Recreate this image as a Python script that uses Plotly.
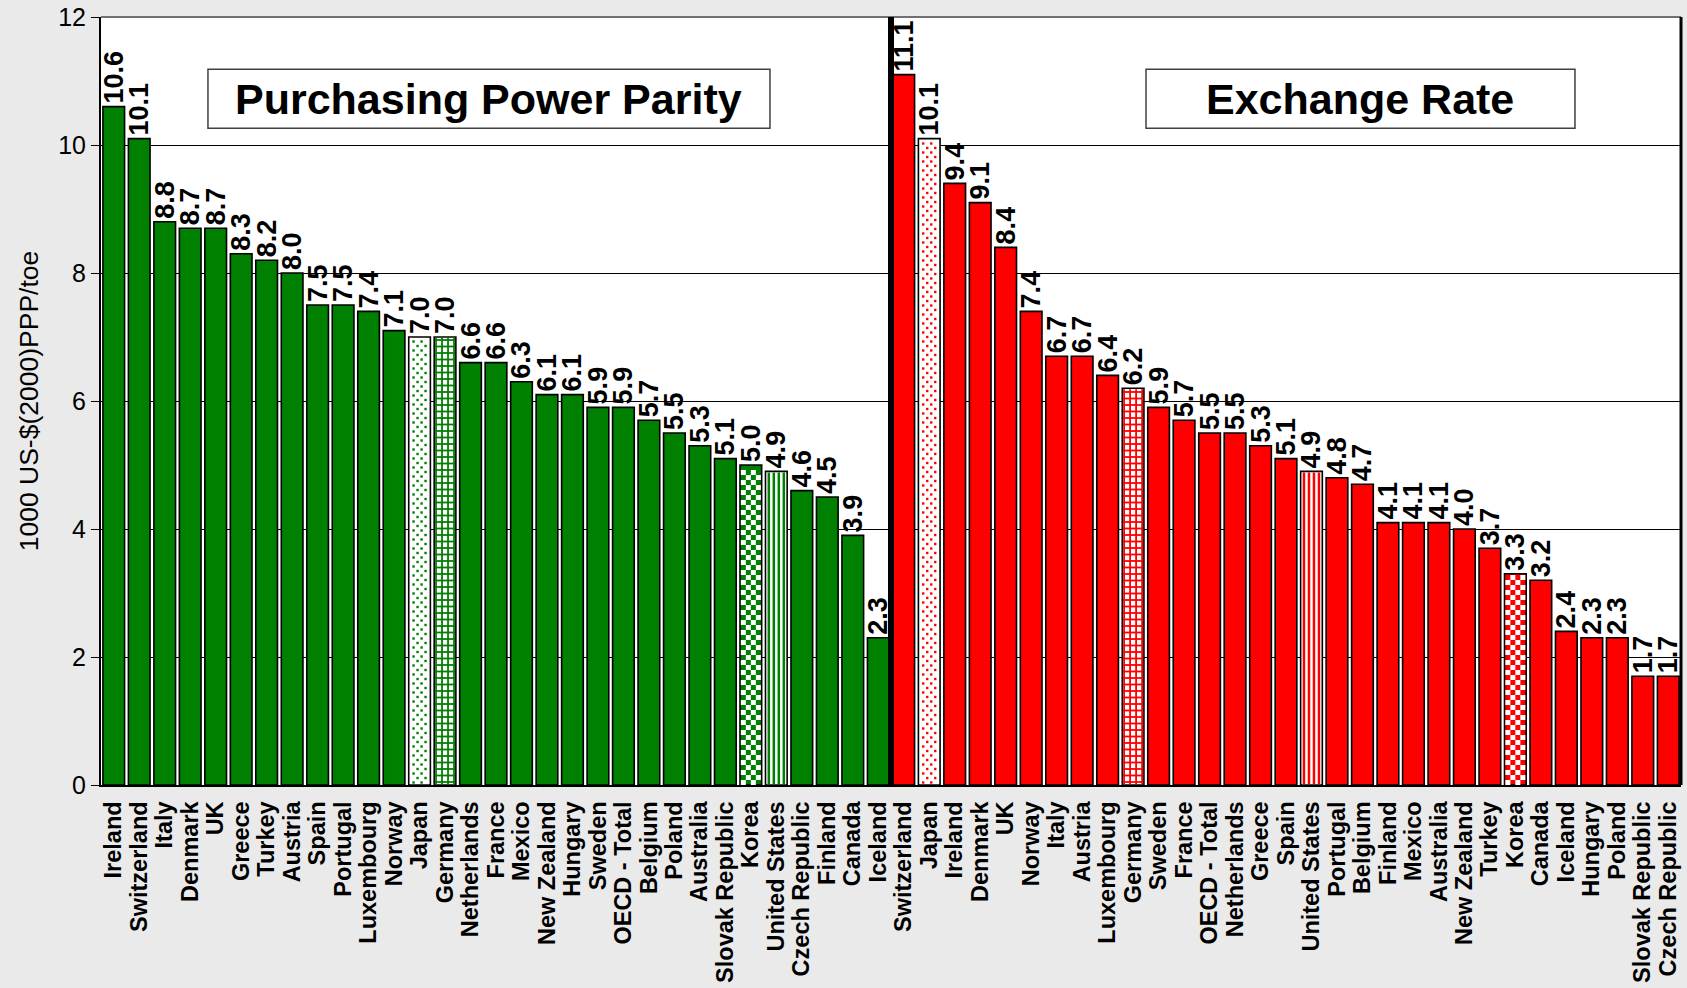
import plotly.graph_objects as go

# Energy productivity by country, 1000 US-$(2000) per toe
ppp_countries = [
    "Ireland", "Switzerland", "Italy", "Denmark", "UK", "Greece", "Turkey",
    "Austria", "Spain", "Portugal", "Luxembourg", "Norway", "Japan", "Germany",
    "Netherlands", "France", "Mexico", "New Zealand", "Hungary", "Sweden",
    "OECD - Total", "Belgium", "Poland", "Australia", "Slovak Republic",
    "Korea", "United States", "Czech Republic", "Finland", "Canada", "Iceland",
]
ppp_values = [
    10.6, 10.1, 8.8, 8.7, 8.7, 8.3, 8.2, 8.0, 7.5, 7.5, 7.4, 7.1, 7.0, 7.0,
    6.6, 6.6, 6.3, 6.1, 6.1, 5.9, 5.9, 5.7, 5.5, 5.3, 5.1, 5.0, 4.9, 4.6,
    4.5, 3.9, 2.3,
]

xr_countries = [
    "Switzerland", "Japan", "Ireland", "Denmark", "UK", "Norway", "Italy",
    "Austria", "Luxembourg", "Germany", "Sweden", "France", "OECD - Total",
    "Netherlands", "Greece", "Spain", "United States", "Portugal", "Belgium",
    "Finland", "Mexico", "Australia", "New Zealand", "Turkey", "Korea",
    "Canada", "Iceland", "Hungary", "Poland", "Slovak Republic",
    "Czech Republic",
]
xr_values = [
    11.1, 10.1, 9.4, 9.1, 8.4, 7.4, 6.7, 6.7, 6.4, 6.2, 5.9, 5.7, 5.5, 5.5,
    5.3, 5.1, 4.9, 4.8, 4.7, 4.1, 4.1, 4.1, 4.0, 3.7, 3.3, 3.2, 2.4, 2.3,
    2.3, 1.7, 1.7,
]

panel_titles = ["Purchasing Power Parity", "Exchange Rate"]
y_title = "1000 US-$(2000)PPP/toe"
y_ticks = [0, 2, 4, 6, 8, 10, 12]

FONT = "Liberation Sans, Arial, sans-serif"
GREEN = "#008000"
RED = "#FF0000"

# figure geometry (pixels) used to size the hatching inside the bars
W, H = 1687, 988
ML, MR, MT, MB = 101, 6, 17, 203
Y_MAX = 12
BAR_W = 0.85

# hatch style per highlighted country
hatch_kind = {"Japan": "dots", "Germany": "grid", "Korea": "checker",
              "United States": "stripes"}


def hatch_traces(countries, values, color, xaxis):
    """Hatch marks drawn inside the highlighted bars, in data units."""
    n = len(countries)
    px_x = (W - ML - MR) / 2 / n          # pixels per category slot
    px_y = (H - MT - MB) / Y_MAX          # pixels per y unit
    half = BAR_W / 2 * px_x - 1.0         # inner half width, px
    lines = {"stripes": ([], []), "grid": ([], [])}
    dots_x, dots_y, white_x, white_y = [], [], [], []
    for i, (c, v) in enumerate(zip(countries, values)):
        kind = hatch_kind.get(c)
        if kind is None:
            continue
        top = v * px_y - 1.0
        if kind == "stripes":
            xs, ys = lines["stripes"]
            for off in (-7.5, -2.5, 2.5, 7.5):
                xs += [i + off / px_x, i + off / px_x, None]
                ys += [1.0 / px_y, top / px_y, None]
        elif kind == "grid":
            xs, ys = lines["grid"]
            for off in (-9.0, -3.0, 3.0, 9.0):
                xs += [i + off / px_x, i + off / px_x, None]
                ys += [1.0 / px_y, top / px_y, None]
            h = 3.0
            while h < top - 1:
                xs += [i - half / px_x, i + half / px_x, None]
                ys += [h / px_y, h / px_y, None]
                h += 6.5
        elif kind == "dots":
            h, row = 2.5, 0
            while h < top - 1:
                offs = (-6.0, 2.0) if row % 2 == 0 else (-2.0, 6.0)
                for off in offs:
                    dots_x.append(i + off / px_x)
                    dots_y.append(h / px_y)
                h += 4.5
                row += 1
        elif kind == "checker":
            h, row = 2.5, 0
            while h < top - 2:
                for col, off in enumerate((-7.5, -2.5, 2.5, 7.5)):
                    if (row + col) % 2 == 0:
                        white_x.append(i + off / px_x)
                        white_y.append(h / px_y)
                h += 5.0
                row += 1
    traces = []
    for kind, width in (("stripes", 2.5), ("grid", 1.8)):
        xs, ys = lines[kind]
        if xs:
            traces.append(go.Scatter(
                x=xs, y=ys, xaxis=xaxis, yaxis="y", mode="lines",
                line=dict(color=color, width=width), hoverinfo="skip",
                showlegend=False))
    if dots_x:
        traces.append(go.Scatter(
            x=dots_x, y=dots_y, xaxis=xaxis, yaxis="y", mode="markers",
            marker=dict(symbol="square", size=2.4, color=color,
                        line=dict(width=0)),
            hoverinfo="skip", showlegend=False))
    if white_x:
        traces.append(go.Scatter(
            x=white_x, y=white_y, xaxis=xaxis, yaxis="y", mode="markers",
            marker=dict(symbol="square", size=5, color="white",
                        line=dict(width=0)),
            hoverinfo="skip", showlegend=False))
    return traces


def bar_trace(countries, values, color, xaxis):
    fills = []
    for c in countries:
        kind = hatch_kind.get(c)
        fills.append("white" if kind in ("dots", "grid", "stripes") else color)
    return go.Bar(
        x=list(range(len(countries))),
        y=values,
        width=BAR_W,
        xaxis=xaxis,
        yaxis="y",
        customdata=countries,
        hovertemplate="%{customdata}: %{y:.1f}<extra></extra>",
        text=[f"{v:.1f}" for v in values],
        textposition="outside",
        textangle=-90,
        constraintext="none",
        cliponaxis=False,
        textfont=dict(family=FONT, size=27, color="black", weight="bold"),
        marker=dict(color=fills, line=dict(color="black", width=1.6)),
        showlegend=False,
    )


fig = go.Figure()
fig.add_trace(bar_trace(ppp_countries, ppp_values, GREEN, "x"))
fig.add_trace(bar_trace(xr_countries, xr_values, RED, "x2"))
for t in hatch_traces(ppp_countries, ppp_values, GREEN, "x"):
    fig.add_trace(t)
for t in hatch_traces(xr_countries, xr_values, RED, "x2"):
    fig.add_trace(t)


def x_axis(countries, domain):
    return dict(
        domain=domain,
        anchor="y",
        range=[-0.5, len(countries) - 0.5],
        tickmode="array",
        tickvals=list(range(len(countries))),
        ticktext=countries,
        tickangle=-90,
        tickfont=dict(family=FONT, size=23.5, color="black", weight="bold"),
        showline=True,
        linecolor="black",
        linewidth=2,
        ticks="",
        ticklabelstandoff=5,
        showgrid=False,
        zeroline=False,
        automargin=False,
    )


fig.update_layout(
    width=W,
    height=H,
    autosize=False,
    margin=dict(l=ML, r=MR, t=MT, b=MB),
    paper_bgcolor="#EAEAEA",
    plot_bgcolor="white",
    font=dict(family=FONT, color="black"),
    xaxis=x_axis(ppp_countries, [0, 0.5]),
    xaxis2=x_axis(xr_countries, [0.5, 1]),
    yaxis=dict(
        range=[0, Y_MAX],
        tickvals=y_ticks,
        ticktext=[str(t) for t in y_ticks],
        tickfont=dict(family=FONT, size=25, color="black"),
        ticks="outside",
        ticklen=8,
        tickcolor="black",
        tickwidth=1,
        showline=True,
        linecolor="black",
        linewidth=2,
        showgrid=True,
        gridcolor="black",
        gridwidth=1,
        zeroline=False,
        automargin=False,
        title=dict(text=y_title, font=dict(family=FONT, size=26.5, color="black"),
                   standoff=12),
    ),
)

# frame: grey top edge, heavy right edge and the divider between the panels
fig.add_shape(type="line", xref="paper", yref="paper", x0=0, x1=1, y0=1, y1=1,
              line=dict(color="#707070", width=2))
fig.add_shape(type="line", xref="paper", yref="paper", x0=1, x1=1, y0=0, y1=1,
              line=dict(color="black", width=3))
fig.add_shape(type="line", xref="paper", yref="paper", x0=0.5, x1=0.5, y0=0, y1=1,
              line=dict(color="black", width=6))

# panel title boxes
boxes = [(0.0677, 0.4234), (0.6614, 0.9329)]
for (bx0, bx1), label in zip(boxes, panel_titles):
    fig.add_shape(type="rect", xref="paper", yref="paper",
                  x0=bx0, x1=bx1, y0=0.855, y1=0.932,
                  fillcolor="white", line=dict(color="#404040", width=1.5))
    fig.add_annotation(xref="paper", yref="paper", x=(bx0 + bx1) / 2, y=0.8935,
                       text=label, showarrow=False, xanchor="center",
                       yanchor="middle",
                       font=dict(family=FONT, size=43, color="black",
                                 weight="bold"))

fig.write_html("out.html")
